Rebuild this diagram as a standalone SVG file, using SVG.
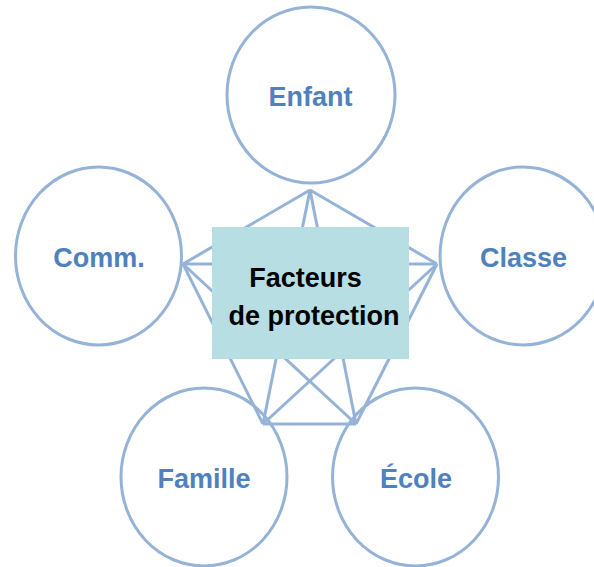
<svg xmlns="http://www.w3.org/2000/svg" width="594" height="567" viewBox="0 0 594 567">
<style>
.c{fill:#ffffff;stroke:#95b3d7;stroke-width:3}
.l{stroke:#95b3d7;stroke-width:3;fill:none}
.t{font-family:"Liberation Sans",Arial,sans-serif;font-weight:bold;font-size:27px;fill:#4f81bd;text-anchor:middle}
.b{font-family:"Liberation Sans",Arial,sans-serif;font-weight:bold;font-size:27px;fill:#000000;text-anchor:middle}
</style>
<rect width="594" height="567" fill="#ffffff"/>
<g id="enfant"><ellipse class="c" cx="311" cy="95" rx="84" ry="88"/><text class="t" x="310.5" y="106">Enfant</text></g>
<g id="comm"><ellipse class="c" cx="98.5" cy="256" rx="83" ry="89"/><text class="t" x="99" y="267">Comm.</text></g>
<g id="classe"><ellipse class="c" cx="523" cy="256" rx="83" ry="89"/><text class="t" x="523.5" y="267">Classe</text></g>
<g id="famille"><ellipse class="c" cx="204" cy="477" rx="83" ry="89"/><text class="t" x="204" y="488">Famille</text></g>
<g id="ecole"><ellipse class="c" cx="415.5" cy="477" rx="83" ry="89"/><text class="t" x="416" y="488">École</text></g>
<g id="connectors">
<line class="l" x1="310" y1="190" x2="183" y2="264"/>
<line class="l" x1="310" y1="190" x2="437" y2="264"/>
<line class="l" x1="310" y1="190" x2="263" y2="424"/>
<line class="l" x1="310" y1="190" x2="356" y2="424"/>
<line class="l" x1="183" y1="264" x2="437" y2="264"/>
<line class="l" x1="183" y1="264" x2="263" y2="424"/>
<line class="l" x1="183" y1="264" x2="356" y2="424"/>
<line class="l" x1="437" y1="264" x2="263" y2="424"/>
<line class="l" x1="437" y1="264" x2="356" y2="424"/>
<line class="l" x1="263" y1="424" x2="356" y2="424"/>
</g>
<g id="center">
<rect x="212" y="227" width="197" height="132" fill="#b7dee2"/>
<text class="b" x="305.5" y="286.5">Facteurs</text>
<text class="b" x="314" y="324.5">de protection</text>
</g>
</svg>
